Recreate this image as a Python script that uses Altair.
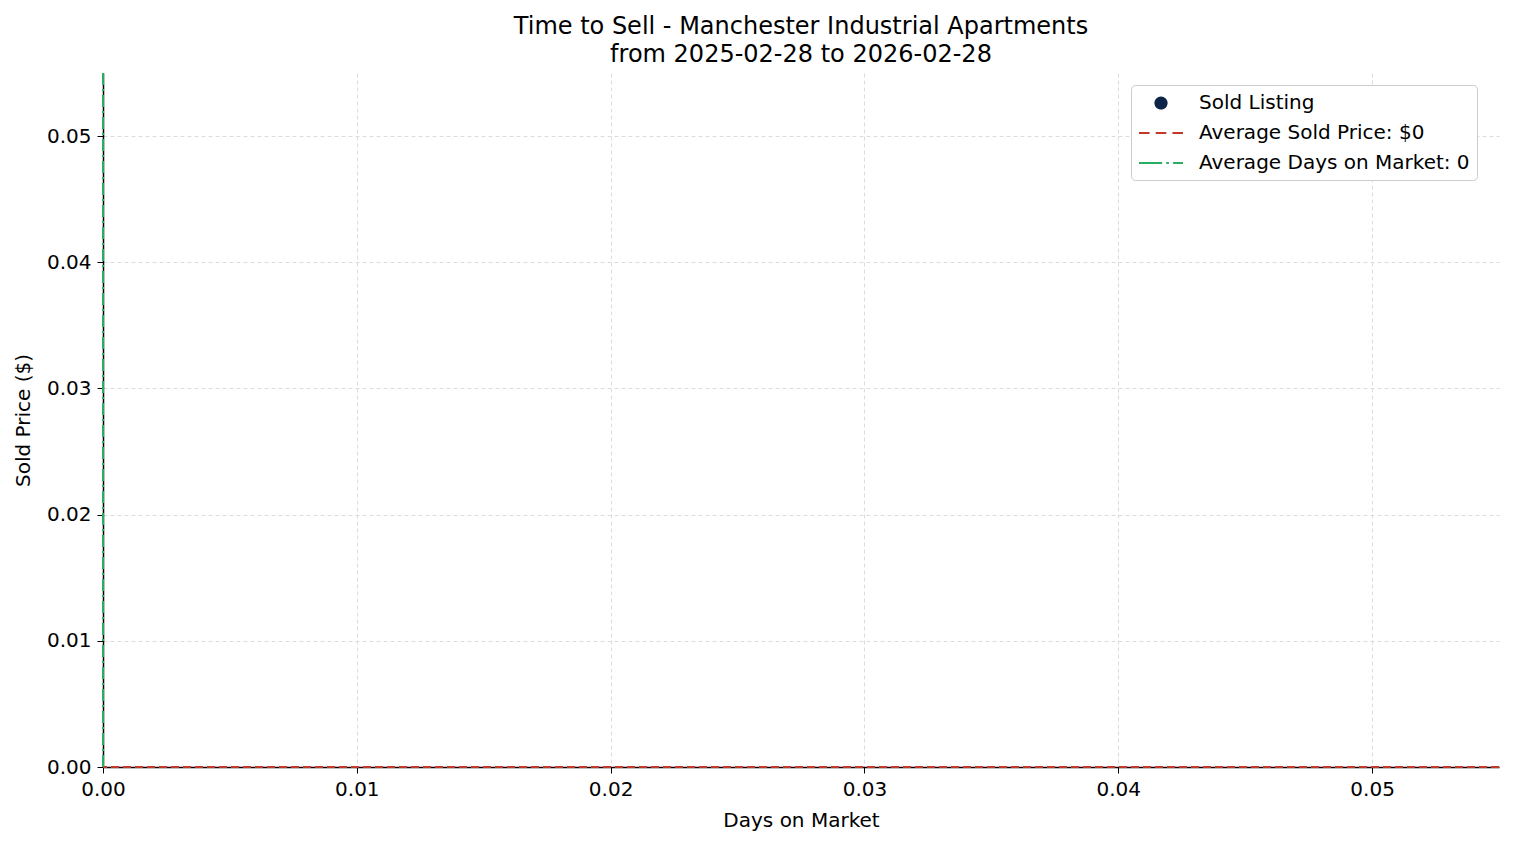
"""
Time to Sell scatter (no sold listings in the period)
"""
import pandas as pd
import altair as alt

# Sold listings in the period (none were found)
sold_days = []
sold_prices = []
avg_price = 0
avg_days = 0

tick_values = [0.0, 0.01, 0.02, 0.03, 0.04, 0.05]
axis_max = 0.055

series_labels = [
    "Sold Listing",
    f"Average Sold Price: ${avg_price:,.0f}",
    f"Average Days on Market: {avg_days:.0f}",
]
series_colors = ["#0b2447", "#c0392b", "#27ae60"]
# legend glyphs: a dot, a dashed line, a dash-dot line
series_shapes = [
    "M-0.6,0A0.6,0.6,0,1,0,0.6,0A0.6,0.6,0,1,0,-0.6,0Z",
    "M-2,-0.09H-1.04V0.09H-2Z M-0.48,-0.09H0.48V0.09H-0.48Z M1.04,-0.09H2V0.09H1.04Z",
    "M-2,-0.09H0.1V0.09H-2Z M0.48,-0.09H0.72V0.09H0.48Z M1.1,-0.09H2V0.09H1.1Z",
]

listings = pd.DataFrame({
    "days": pd.Series(sold_days, dtype=float),
    "price": pd.Series(sold_prices, dtype=float),
    "series": pd.Series([series_labels[0]] * len(sold_days), dtype=str),
})

font = "DejaVu Sans"
x_scale = alt.Scale(domain=[0, axis_max], nice=False, zero=True)
y_scale = alt.Scale(domain=[0, axis_max], nice=False, zero=True)

legend = alt.Legend(
    title=None, orient="none", legendX=1028, legendY=12,
    symbolSize=484, symbolStrokeWidth=0, symbolOpacity=1, symbolOffset=12,
    labelFontSize=20, labelFont=font, labelColor="black", labelOffset=27, labelLimit=500,
    rowPadding=9, padding=7, fillColor="white", strokeColor="#cccccc",
    cornerRadius=4,
)

points = alt.Chart(listings).mark_point(filled=True, size=60, opacity=1).encode(
    x=alt.X("days:Q", scale=x_scale, title="Days on Market",
            axis=alt.Axis(values=tick_values, format=".2f", labelFlush=False)),
    y=alt.Y("price:Q", scale=y_scale, title="Sold Price ($)",
            axis=alt.Axis(values=tick_values, format=".2f", labelFlush=False)),
    color=alt.Color("series:N", scale=alt.Scale(domain=series_labels, range=series_colors), legend=legend),
    shape=alt.Shape("series:N", scale=alt.Scale(domain=series_labels, range=series_shapes), legend=legend),
)

avg_price_line = alt.Chart(pd.DataFrame({"price": [avg_price]})).mark_rule(
    color=series_colors[1], strokeWidth=2, strokeDash=[8, 4]
).encode(y=alt.Y("price:Q", scale=y_scale))

avg_days_line = alt.Chart(pd.DataFrame({"days": [avg_days]})).mark_rule(
    color=series_colors[2], strokeWidth=2, strokeDash=[12, 4, 2, 4]
).encode(x=alt.X("days:Q", scale=x_scale))

chart = alt.layer(points, avg_price_line, avg_days_line).properties(
    width=1396,
    height=694,
    autosize=alt.AutoSizeParams(type="none"),
    padding={"left": 95, "top": 65, "right": 7, "bottom": 70},
    title=alt.Title(
        ["Time to Sell - Manchester Industrial Apartments", "from 2025-02-28 to 2026-02-28"],
        font=font, fontSize=24, fontWeight="normal", color="black",
        anchor="middle", lineHeight=28, offset=5,
    ),
).configure_view(
    stroke=None
).configure_axis(
    labelFont=font, labelFontSize=20, labelColor="black",
    titleFont=font, titleFontSize=20, titleColor="black", titleFontWeight="normal",
    domainColor="black", domainWidth=1.5, tickColor="black", tickSize=6, labelPadding=6,
    gridColor="#d3d3d3", gridDash=[4, 3], gridWidth=0.8, zindex=1,
).configure_axisY(
    titlePadding=13
).configure_axisX(
    titlePadding=11
)

chart.save("out.html", embed_options={"renderer": "svg", "actions": False})
